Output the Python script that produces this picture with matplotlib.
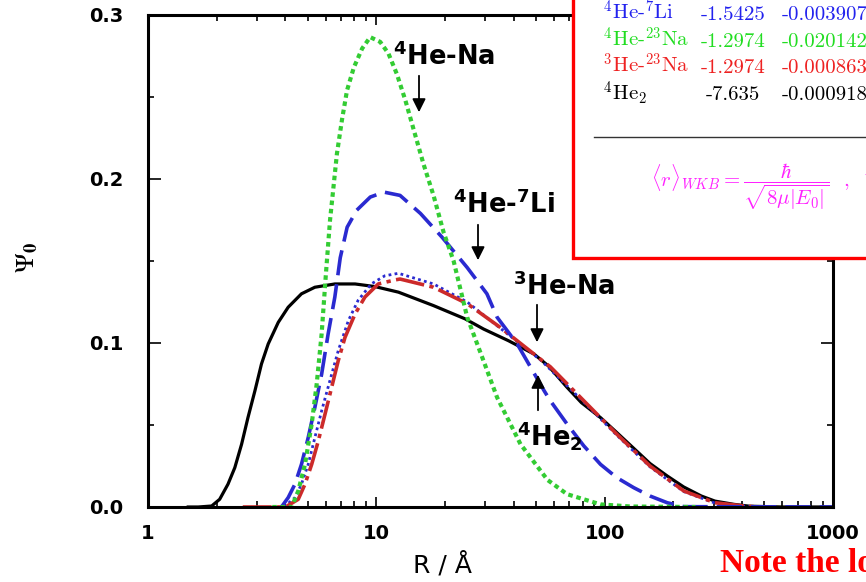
import matplotlib
matplotlib.use("Agg")
import matplotlib.pyplot as plt
from matplotlib.patches import Rectangle, FancyArrowPatch
from matplotlib.lines import Line2D

# ground-state wave functions Psi_0(R)
# 4He2 (black, solid)
r_he2 = [1.5, 1.66, 1.90, 2.06, 2.24, 2.40, 2.57, 2.74, 2.94, 3.14, 3.36, 3.72, 4.11,
         4.70, 5.38, 6.58, 8.07, 9.86, 12.5, 17.8, 24.5, 29.5, 37.9, 49.0, 56.7, 68.5,
         79.0, 95.9, 113, 134, 158, 188, 222, 265, 304, 369, 430, 600, 1000]
psi_he2 = [0, 0, 0.0006, 0.0047, 0.0139, 0.024, 0.0383, 0.0545, 0.0709, 0.0872, 0.0994,
           0.1126, 0.1218, 0.130, 0.134, 0.136, 0.136, 0.1344, 0.131, 0.1228, 0.1147,
           0.1085, 0.1014, 0.0933, 0.086, 0.0729, 0.0637, 0.0545, 0.0454, 0.0358, 0.0265,
           0.0189, 0.0122, 0.0067, 0.0036, 0.0016, 0.0005, 0, 0]

# 4He-7Li (blue, dashed)
r_heli = [3.84, 4.11, 4.40, 4.70, 5.03, 5.38, 5.76, 6.15, 6.58, 6.95, 7.45, 8.21, 9.41,
          10.8, 12.7, 15.6, 19.4, 25.0, 30.5, 33.8, 41.4, 54.3, 57.8, 68.5, 81, 95.9,
          113, 134, 158, 188, 222, 1000]
psi_heli = [0, 0.0057, 0.0139, 0.026, 0.0423, 0.0607, 0.081, 0.1055, 0.128, 0.152, 0.1706,
            0.181, 0.189, 0.192, 0.190, 0.179, 0.1645, 0.146, 0.130, 0.1157, 0.0994,
            0.0709, 0.0648, 0.0505, 0.0373, 0.026, 0.0179, 0.0118, 0.0067, 0.0026,
            0.0002, 0]

# 4He-Na (green, dotted)
r_hena = [3.5, 4.26, 4.55, 4.87, 5.21, 5.48, 5.76, 6.02, 6.27, 6.49, 6.72, 7.07, 7.44,
          7.97, 8.67, 9.40, 10.4, 11.3, 12.3, 13.4, 14.6, 16.1, 17.8, 19.7, 21.8, 25.0,
          29.1, 33.8, 42.8, 56.2, 68.5, 81, 95.9, 130, 250]
psi_hena = [0, 0, 0.0098, 0.026, 0.0505, 0.075, 0.1055, 0.143, 0.175, 0.195, 0.2154,
            0.236, 0.254, 0.268, 0.2796, 0.2865, 0.2836, 0.2765, 0.264, 0.248, 0.2297,
            0.209, 0.190, 0.1676, 0.150, 0.1157, 0.0912, 0.0668, 0.0383, 0.0165, 0.0078,
            0.0047, 0.0016, 0.0003, 0]

# 3He-Na (red, dash-dot)
r_he3na = [2.6, 4.0, 4.55, 4.87, 5.21, 5.57, 5.96, 6.37, 6.81, 7.29, 8.07, 8.91, 10.2,
           12.1, 12.7, 17.8, 25.0, 34.9, 52.5, 57.8, 81, 113, 158, 222, 304, 420, 500]
psi_he3na = [0, 0, 0.0047, 0.0139, 0.026, 0.0403, 0.0566, 0.0729, 0.0892, 0.1034, 0.1177,
             0.128, 0.136, 0.1385, 0.139, 0.134, 0.124, 0.1095, 0.090, 0.0855, 0.0648,
             0.0444, 0.025, 0.0098, 0.0026, 0.0004, 0]

# second blue curve (fine dots)
r_dot = [3.94, 4.40, 4.70, 5.03, 5.38, 5.76, 6.26, 6.81, 7.54, 8.32, 9.50, 10.9, 12.5,
         17.8, 25.0, 34.9, 52.5, 81, 113, 158, 222, 304, 450]
psi_dot = [0, 0.0057, 0.0139, 0.026, 0.0423, 0.0586, 0.077, 0.0953, 0.1136, 0.126, 0.136,
           0.141, 0.1425, 0.136, 0.125, 0.109, 0.0895, 0.064, 0.0438, 0.0245, 0.0094,
           0.0024, 0]

# inset table
tab_names = [r"$^{4}$He-$^{7}$Li", r"$^{4}$He-$^{23}$Na", r"$^{3}$He-$^{23}$Na", r"$^{4}$He$_{2}$"]
tab_v1 = ["-1.5425", "-1.2974", "-1.2974", "-7.635"]
tab_v2 = ["-0.003907", "-0.020142", "-0.000863", "-0.000918"]
tab_colors = ["#2222ee", "#22dd22", "#ee2222", "black"]

W, H = 866, 582
fig = plt.figure(figsize=(W / 100, H / 100), dpi=100)


def fx(px):
    return px / W


def fy(py):
    return 1 - py / H


ax = fig.add_axes([fx(148), fy(507), (833 - 148) / W, (507 - 15) / H])

ax.plot(r_he2, psi_he2, color="black", lw=2.3)
ax.plot(r_dot, psi_dot, color="#2a2ad0", lw=2.0, ls=(0, (1, 1.2)))
ax.plot(r_he3na, psi_he3na, color="#cc2a2a", lw=2.6, ls=(0, (8, 1.5, 1.2, 1.5)))
ax.plot(r_heli, psi_heli, color="#2a2ad0", lw=2.6, ls=(0, (7, 2.5)))
ax.plot(r_hena, psi_hena, color="#33cc33", lw=3.0, ls=(0, (1.1, 0.9)))

ax.set_xscale("log")
ax.set_xlim(1, 1000)
ax.set_ylim(0, 0.3)
ax.set_xticks([1, 10, 100, 1000], labels=["1", "10", "100", "1000"],
              fontweight="bold", fontsize=14)
ax.set_yticks([0, 0.1, 0.2, 0.3], labels=["0.0", "0.1", "0.2", "0.3"],
              fontweight="bold", fontsize=14)
ax.set_yticks([0.05, 0.15, 0.25], minor=True)
ax.tick_params(which="both", direction="in", top=True, right=True, width=1.2)
ax.tick_params(axis="x", which="major", length=7.5, pad=12)
ax.tick_params(axis="x", which="minor", length=4)
ax.tick_params(axis="y", which="major", length=9, pad=18)
ax.tick_params(axis="y", which="minor", length=4.5)
for s in ax.spines.values():
    s.set_linewidth(2.2)

fig.text(fx(443), fy(565), "R / Å", fontsize=18, ha="center", va="center")
fig.text(fx(27), fy(258), r"$\Psi_{\mathbf{0}}$", fontsize=19, rotation=90,
         ha="center", va="center", math_fontfamily="stix")

# curve labels and arrows
lab = dict(fontsize=18.5, fontweight="bold", ha="left", va="baseline",
           math_fontfamily="dejavusans")
fig.text(fx(393), fy(65), r"$^{\mathbf{4}}$He-Na", **lab)
fig.text(fx(453), fy(213), r"$^{\mathbf{4}}$He-$^{\mathbf{7}}$Li", **lab)
fig.text(fx(513), fy(295), r"$^{\mathbf{3}}$He-Na", **lab)
fig.text(fx(517), fy(445), r"$^{\mathbf{4}}$He$_{\mathbf{2}}$", **lab)

arrows = [(419, 73, 115), (478, 222, 263), (537, 302, 345), (538, 413, 372)]
for px, y0, y1 in arrows:
    fig.add_artist(FancyArrowPatch(
        (fx(px), fy(y0)), (fx(px), fy(y1)), transform=fig.transFigure,
        arrowstyle="-|>", mutation_scale=20, lw=1.3, color="black"))

# inset box, running off the top and right edges
box = Rectangle((fx(573), fy(258)), fx(400), 300 / H, transform=fig.transFigure,
                facecolor="white", edgecolor="#ff0000", lw=2.4, zorder=5)
fig.add_artist(box)

rows_y = [20, 47, 73, 100]
for name, v1, v2, c, yy in zip(tab_names, tab_v1, tab_v2, tab_colors, rows_y):
    kw = dict(fontsize=15, color=c, va="baseline", family="cmr10",
              math_fontfamily="cm", zorder=6)
    fig.text(fx(603), fy(yy), name, ha="left", **kw)
    fig.text(fx(733), fy(yy), v1, ha="center", **kw)
    fig.text(fx(782), fy(yy), v2, ha="left", **kw)

fig.add_artist(Line2D([fx(594), fx(900)], [fy(137), fy(137)], transform=fig.transFigure,
                      color="#333333", lw=1.0, zorder=6))
fig.text(fx(651), fy(187),
         r"$\langle r\rangle_{WKB} = \dfrac{\hbar}{\sqrt{8\mu|E_0|}}$  ,  $\Psi$",
         fontsize=15, color="#ff22ff", ha="left", va="center",
         family="cmr10", math_fontfamily="cm", zorder=6)

fig.text(fx(720), fy(572), "Note the log scale", fontsize=24, fontweight="bold",
         color="#ff0000", family="Liberation Serif", ha="left", va="baseline")

fig.savefig("out.png", dpi=100)
